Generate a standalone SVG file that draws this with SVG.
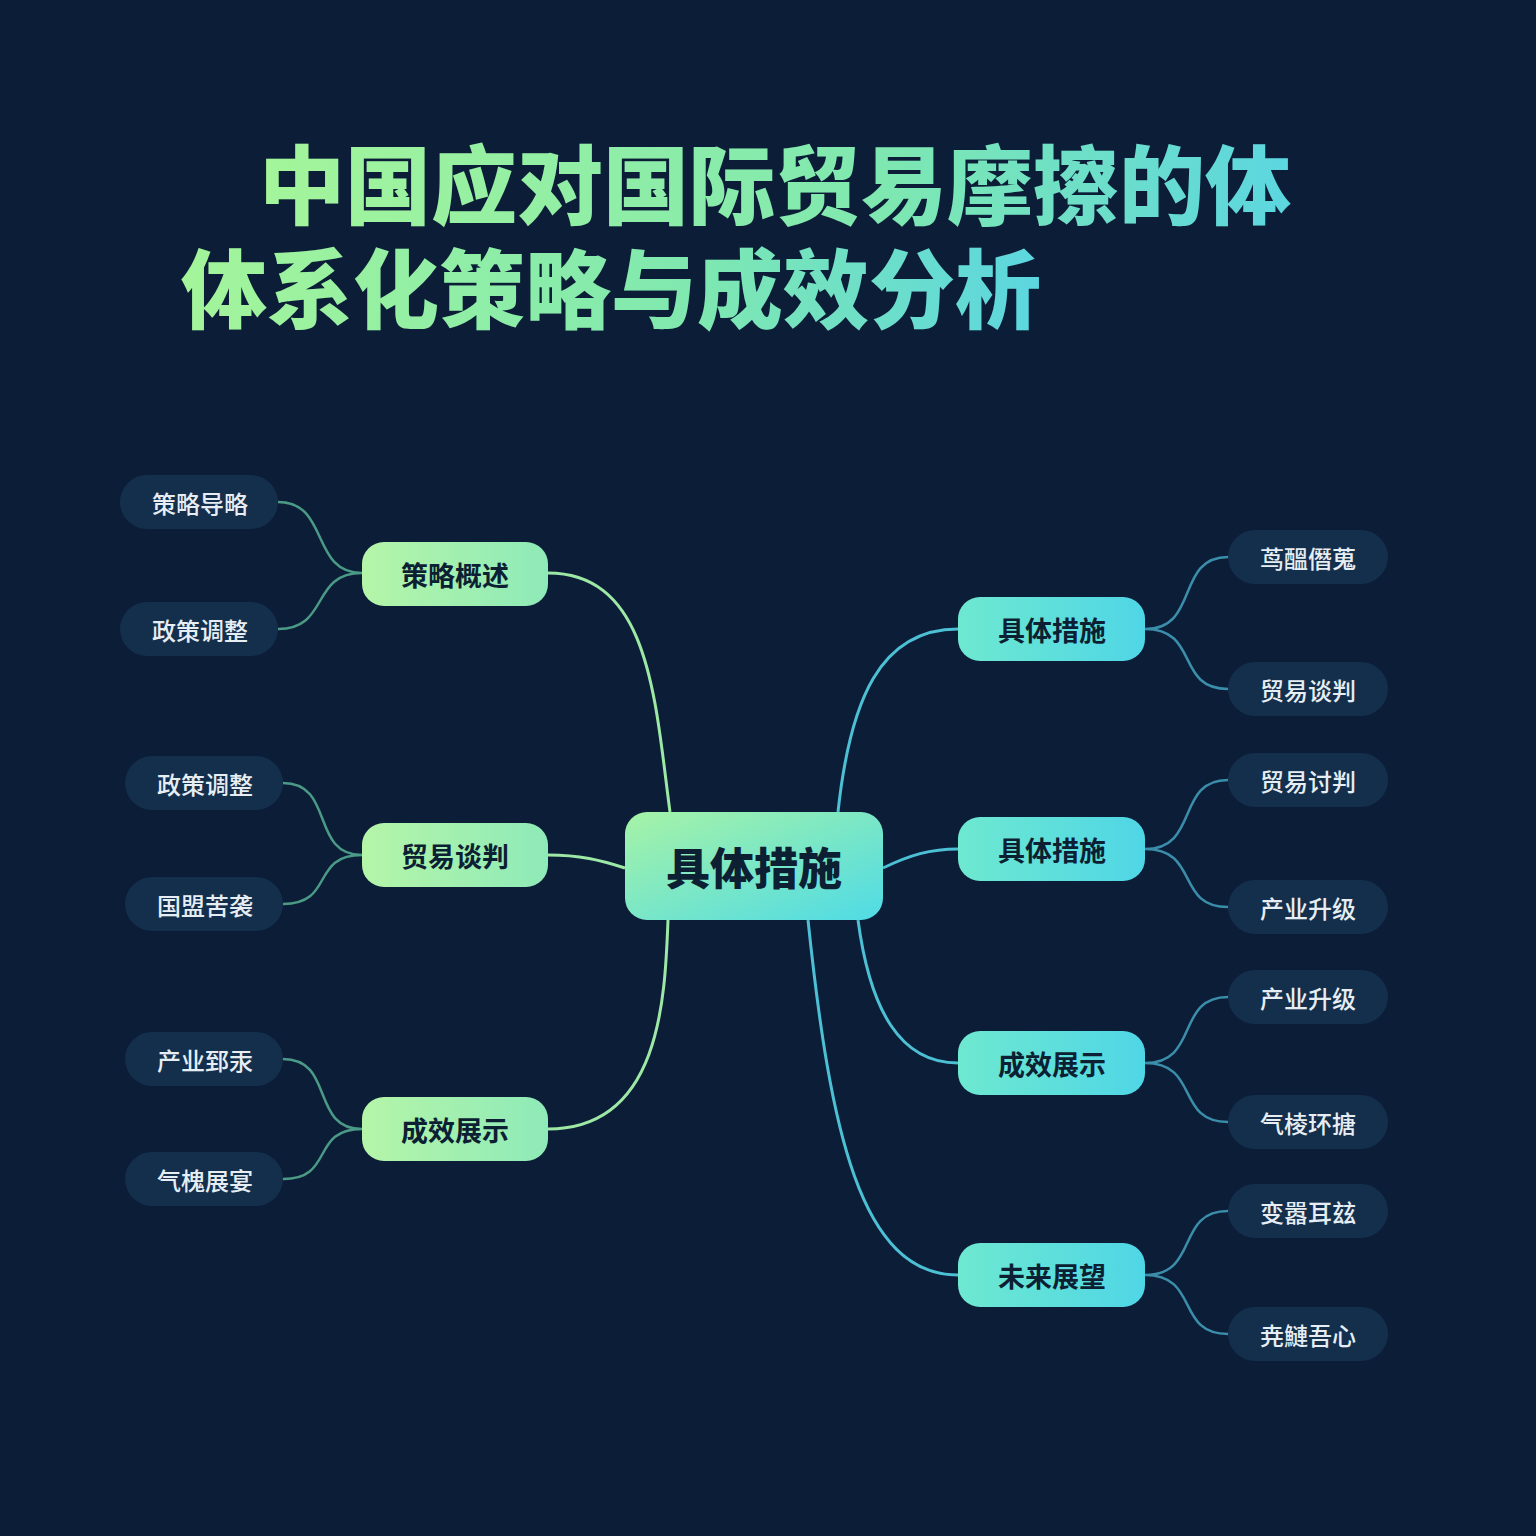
<svg xmlns="http://www.w3.org/2000/svg" width="1536" height="1536" viewBox="0 0 1536 1536">
<defs>
<linearGradient id="tg" x1="0" y1="0" x2="1" y2="0"><stop offset="0" stop-color="#a4f59a"/><stop offset="0.6" stop-color="#7fe8b0"/><stop offset="1" stop-color="#5cd6e0"/></linearGradient>
<linearGradient id="cg" x1="0" y1="0" x2="1" y2="1"><stop offset="0" stop-color="#a6f3a6"/><stop offset="1" stop-color="#4fdbe6"/></linearGradient>
<linearGradient id="lg" x1="0" y1="0" x2="1" y2="0"><stop offset="0" stop-color="#b5f5a8"/><stop offset="1" stop-color="#8eeab8"/></linearGradient>
<linearGradient id="rg" x1="0" y1="0" x2="1" y2="0"><stop offset="0" stop-color="#6ee8d0"/><stop offset="1" stop-color="#4fd6e6"/></linearGradient>
</defs>
<style>
text{font-family:"Noto Sans CJK SC","Noto Sans",sans-serif;text-anchor:middle;dominant-baseline:central}
.mid text{font-size:27px;font-weight:700;fill:#0d1f33}
.leaf rect{fill:#142f4c}
.leaf text{font-size:24px;font-weight:500;fill:#e6eef4}
.cl{fill:none;stroke:#9ce8a4;stroke-width:3}
.cr{fill:none;stroke:#4cc0d4;stroke-width:3}
.ll{fill:none;stroke:#4a9a86;stroke-width:2.5}
.lr{fill:none;stroke:#3a8eaa;stroke-width:2.5}
.tt{font-size:86px;font-weight:900}
</style>
<rect width="1536" height="1536" fill="#0c1d38"/>
<g id="title" fill="url(#tg)">
<text class="tt" x="775" y="180" fill="url(#tg)">中国应对国际贸易摩擦的体</text>
<text class="tt" x="611" y="284" fill="url(#tg)">体系化策略与成效分析</text>
</g>
<g id="connectors">
<path class="cl" d="M670 812 C655 700 650 573 548 573"/>
<path class="cl" d="M625 868 C600 860 580 855 548 855"/>
<path class="cl" d="M668 920 C665 1000 660 1129 548 1129"/>
<path class="cr" d="M838 812 C850 700 880 629 958 629"/>
<path class="cr" d="M883 868 C910 855 930 849 958 849"/>
<path class="cr" d="M858 920 C870 1010 900 1063 958 1063"/>
<path class="cr" d="M808 920 C830 1130 860 1275 958 1275"/>
<path class="ll" d="M278 502 C330 502 310 573 362 573 M278 629 C330 629 310 573 362 573"/>
<path class="ll" d="M283 783 C335 783 310 855 362 855 M283 904 C335 904 310 855 362 855"/>
<path class="ll" d="M283 1059 C335 1059 310 1129 362 1129 M283 1179 C335 1179 310 1129 362 1129"/>
<path class="lr" d="M1145 629 C1200 629 1175 557 1228 557 M1145 629 C1200 629 1175 689 1228 689"/>
<path class="lr" d="M1145 849 C1200 849 1175 780 1228 780 M1145 849 C1200 849 1175 907 1228 907"/>
<path class="lr" d="M1145 1063 C1200 1063 1175 997 1228 997 M1145 1063 C1200 1063 1175 1122 1228 1122"/>
<path class="lr" d="M1145 1275 C1200 1275 1175 1211 1228 1211 M1145 1275 C1200 1275 1175 1334 1228 1334"/>
</g>
<g id="center"><rect x="625" y="812" width="258" height="108" rx="22" fill="url(#cg)"/><text x="754" y="866" style="font-size:44px;font-weight:900" fill="#0d1f33">具体措施</text></g>
<g id="m1" class="mid"><rect x="362" y="542" width="186" height="64" rx="22" fill="url(#lg)"/><text x="455" y="574">策略概述</text></g>
<g id="m2" class="mid"><rect x="362" y="823" width="186" height="64" rx="22" fill="url(#lg)"/><text x="455" y="855">贸易谈判</text></g>
<g id="m3" class="mid"><rect x="362" y="1097" width="186" height="64" rx="22" fill="url(#lg)"/><text x="455" y="1129">成效展示</text></g>
<g id="m4" class="mid"><rect x="958" y="597" width="187" height="64" rx="22" fill="url(#rg)"/><text x="1052" y="629">具体措施</text></g>
<g id="m5" class="mid"><rect x="958" y="817" width="187" height="64" rx="22" fill="url(#rg)"/><text x="1052" y="849">具体措施</text></g>
<g id="m6" class="mid"><rect x="958" y="1031" width="187" height="64" rx="22" fill="url(#rg)"/><text x="1052" y="1063">成效展示</text></g>
<g id="m7" class="mid"><rect x="958" y="1243" width="187" height="64" rx="22" fill="url(#rg)"/><text x="1052" y="1275">未来展望</text></g>
<g id="l1" class="leaf"><rect x="120" y="475" width="158" height="54" rx="27"/><text x="200" y="502">策略导略</text></g>
<g id="l2" class="leaf"><rect x="120" y="602" width="158" height="54" rx="27"/><text x="200" y="629">政策调整</text></g>
<g id="l3" class="leaf"><rect x="125" y="756" width="158" height="54" rx="27"/><text x="205" y="783">政策调整</text></g>
<g id="l4" class="leaf"><rect x="125" y="877" width="158" height="54" rx="27"/><text x="205" y="904">国盟苦袭</text></g>
<g id="l5" class="leaf"><rect x="125" y="1032" width="158" height="54" rx="27"/><text x="205" y="1059">产业郅汞</text></g>
<g id="l6" class="leaf"><rect x="125" y="1152" width="158" height="54" rx="27"/><text x="205" y="1179">气槐展宴</text></g>
<g id="r1" class="leaf"><rect x="1228" y="530" width="160" height="54" rx="27"/><text x="1308" y="557">茑醞僭蒐</text></g>
<g id="r2" class="leaf"><rect x="1228" y="662" width="160" height="54" rx="27"/><text x="1308" y="689">贸易谈判</text></g>
<g id="r3" class="leaf"><rect x="1228" y="753" width="160" height="54" rx="27"/><text x="1308" y="780">贸易讨判</text></g>
<g id="r4" class="leaf"><rect x="1228" y="880" width="160" height="54" rx="27"/><text x="1308" y="907">产业升级</text></g>
<g id="r5" class="leaf"><rect x="1228" y="970" width="160" height="54" rx="27"/><text x="1308" y="997">产业升级</text></g>
<g id="r6" class="leaf"><rect x="1228" y="1095" width="160" height="54" rx="27"/><text x="1308" y="1122">气棱环搪</text></g>
<g id="r7" class="leaf"><rect x="1228" y="1184" width="160" height="54" rx="27"/><text x="1308" y="1211">变嚣耳玆</text></g>
<g id="r8" class="leaf"><rect x="1228" y="1307" width="160" height="54" rx="27"/><text x="1308" y="1334">尭鰱吾心</text></g>
</svg>
